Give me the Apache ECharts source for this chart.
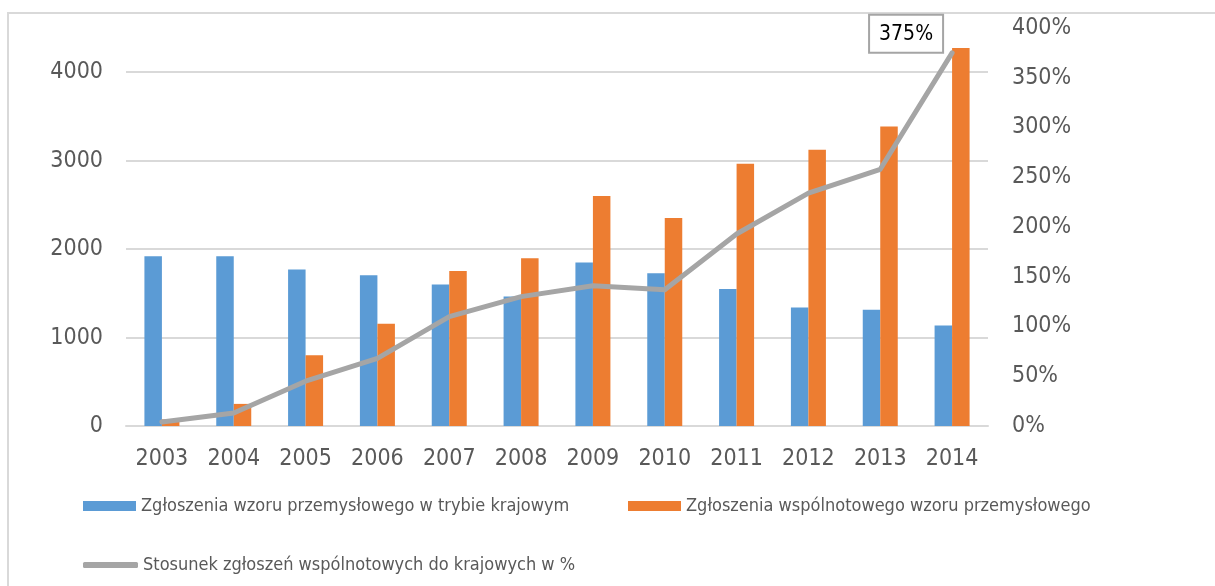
<!DOCTYPE html>
<html>
<head>
<meta charset="utf-8">
<script src="https://cdn.jsdelivr.net/npm/echarts@6/dist/echarts.min.js"></script>
<style>
  html, body { margin: 0; padding: 0; background: #fff; }
  #chart { width: 1215px; height: 586px; }
</style>
</head>
<body>
<div id="chart"></div>
<script>
// Industrial design applications in Poland, 2003-2014
const years = ['2003', '2004', '2005', '2006', '2007', '2008', '2009', '2010', '2011', '2012', '2013', '2014'];
const nationalApps = [1920, 1920, 1770, 1705, 1600, 1465, 1850, 1726, 1548, 1341, 1314, 1137];
const communityApps = [75, 250, 800, 1155, 1752, 1896, 2600, 2351, 2965, 3123, 3386, 4274];
const ratioPct = [4, 13, 45, 68, 110, 130, 141, 137, 193, 234, 258, 375];
const leftTicks = [0, 1000, 2000, 3000, 4000];

const nameNational = 'Zgłoszenia wzoru przemysłowego w trybie krajowym';
const nameCommunity = 'Zgłoszenia wspólnotowego wzoru przemysłowego';
const nameRatio = 'Stosunek zgłoszeń wspólnotowych do krajowych w %';

const FONT = "'DejaVu Sans Condensed', 'Open Sans', sans-serif";
const TEXT = '#595959';
const GRID = '#d9d9d9';

// only the last point of the ratio line carries a boxed value label
const ratioData = ratioPct.map((v, i) => i === ratioPct.length - 1 ? {
  value: v,
  label: {
    show: true,
    position: 'top',
    offset: [-46, 4],
    formatter: '{c}%',
    color: '#000',
    fontFamily: FONT,
    fontSize: 21,
    backgroundColor: '#fff',
    borderColor: '#a5a5a5',
    borderWidth: 2,
    padding: [8, 9, 7, 9]
  }
} : v);

const legendText = { color: TEXT, fontFamily: FONT, fontSize: 18 };

const chart = echarts.init(document.getElementById('chart'), null, { renderer: 'canvas' });

chart.setOption({
  animation: false,
  backgroundColor: '#fff',
  graphic: [{
    type: 'rect',
    shape: { x: 8, y: 13, width: 1240, height: 620 },
    style: { fill: 'none', stroke: GRID, lineWidth: 2 },
    silent: true,
    z: -1
  }],
  grid: { left: 126, right: 227, top: 28, bottom: 160 },
  legend: [
    {
      data: [nameNational], left: 83, top: 497, padding: 0,
      icon: 'rect', itemWidth: 53, itemHeight: 10,
      textStyle: legendText
    },
    {
      data: [nameCommunity], left: 628, top: 497, padding: 0,
      icon: 'rect', itemWidth: 53, itemHeight: 10,
      textStyle: legendText
    },
    {
      data: [nameRatio], left: 83, top: 556, padding: 0,
      icon: 'roundRect', itemWidth: 55, itemHeight: 6,
      textStyle: legendText
    }
  ],
  xAxis: {
    type: 'category',
    data: years,
    axisLine: { lineStyle: { color: GRID, width: 2 } },
    axisTick: { show: false },
    axisLabel: { color: TEXT, fontFamily: FONT, fontSize: 23, margin: 22 }
  },
  yAxis: [
    {
      type: 'value',
      min: 0, max: 4500, interval: 1000,
      axisLine: { show: false },
      axisTick: { show: false },
      axisLabel: {
        color: TEXT, fontFamily: FONT, fontSize: 23, margin: 23,
        formatter: v => leftTicks.includes(v) ? String(v) : ''
      },
      splitLine: {
        lineStyle: {
          color: [GRID, GRID, GRID, GRID, GRID, 'rgba(0,0,0,0)'],
          width: 2
        }
      }
    },
    {
      type: 'value',
      min: 0, max: 400, interval: 50,
      position: 'right',
      axisLine: { show: false },
      axisTick: { show: false },
      splitLine: { show: false },
      axisLabel: { color: TEXT, fontFamily: FONT, fontSize: 23, margin: 24, formatter: '{value}%' }
    }
  ],
  series: [
    {
      name: nameNational,
      type: 'bar',
      data: nationalApps,
      barWidth: 17.5,
      barGap: '0%',
      itemStyle: { color: '#5b9bd5' }
    },
    {
      name: nameCommunity,
      type: 'bar',
      data: communityApps,
      barWidth: 17.5,
      barGap: '0%',
      itemStyle: { color: '#ed7d31' }
    },
    {
      name: nameRatio,
      type: 'line',
      yAxisIndex: 1,
      data: ratioData,
      showSymbol: true,
      symbol: 'circle',
      symbolSize: 0.1,
      lineStyle: { color: '#a5a5a5', width: 5, cap: 'round', join: 'round' },
      itemStyle: { color: '#a5a5a5' },
      z: 5
    }
  ]
});
</script>
</body>
</html>
